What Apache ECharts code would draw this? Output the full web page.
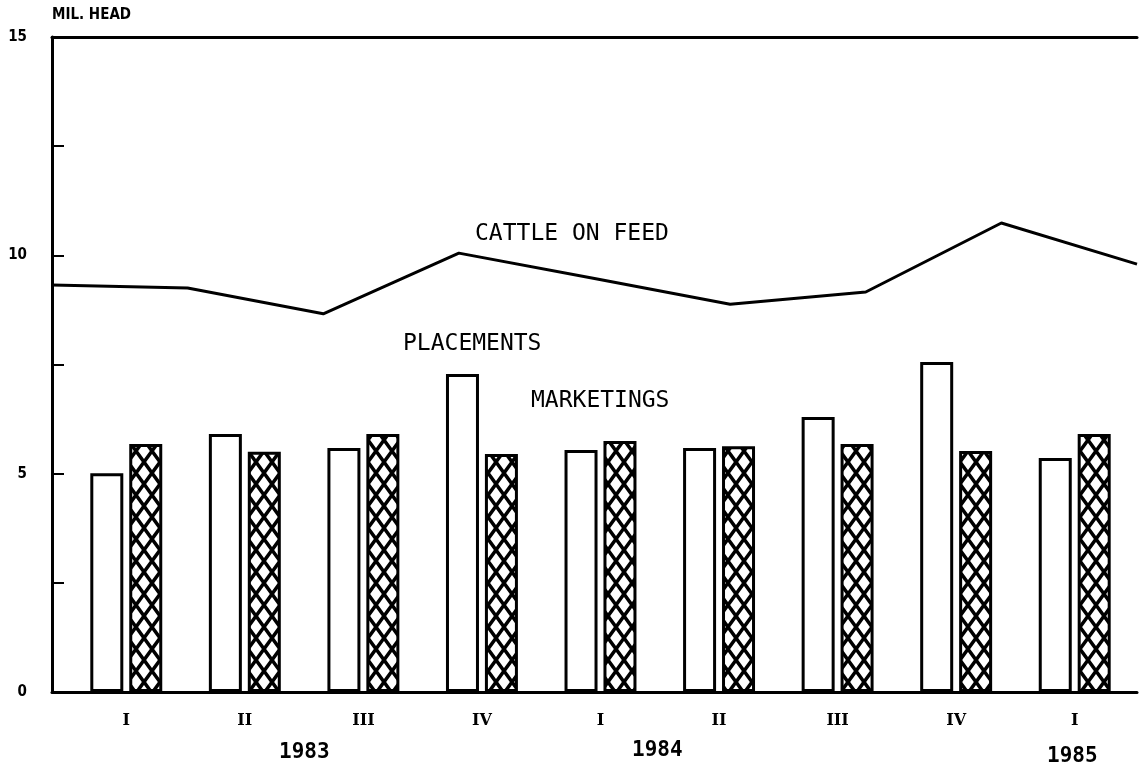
<!DOCTYPE html>
<html>
<head>
<meta charset="utf-8">
<script src="https://cdn.jsdelivr.net/npm/echarts@6/dist/echarts.min.js"></script>
<style>
html,body{margin:0;padding:0;background:#fff;}
#chart{width:1142px;height:767px;}
</style>
</head>
<body>
<div id="chart"></div>
<script>
// ---- data ----
var quarters = ['I', 'II', 'III', 'IV', 'I', 'II', 'III', 'IV', 'I'];
var placements = [5.01, 5.91, 5.59, 7.28, 5.54, 5.59, 6.30, 7.56, 5.36];
var marketings = [5.68, 5.50, 5.91, 5.45, 5.75, 5.63, 5.68, 5.52, 5.91];
var cattleOnFeed = [9.32, 9.25, 8.66, 10.05, 9.47, 8.88, 9.16, 10.74, 9.80];
var yTickLabels = ['0', '5', '10', '15'];
var years = ['1983', '1984', '1985'];

// crosshatch pattern
function makeHatch() {
  var w = 16, h = 22;
  var c = document.createElement('canvas');
  c.width = w; c.height = h;
  var ctx = c.getContext('2d');
  ctx.fillStyle = '#fff';
  ctx.fillRect(0, 0, w, h);
  ctx.strokeStyle = '#000';
  ctx.lineWidth = 3.5;
  for (var dx = -1; dx <= 1; dx++) {
    for (var dy = -1; dy <= 1; dy++) {
      ctx.beginPath();
      ctx.moveTo(dx * w, dy * h);
      ctx.lineTo(dx * w + w, dy * h + h);
      ctx.moveTo(dx * w + w, dy * h);
      ctx.lineTo(dx * w, dy * h + h);
      ctx.stroke();
    }
  }
  return c;
}

var chart = echarts.init(document.getElementById('chart'), null, {renderer: 'canvas'});
var lineData = cattleOnFeed.map(function (v, i) { return [i, v]; });
var monoFont = '"DejaVu Sans Mono", monospace';

var option = {
  animation: false,
  backgroundColor: '#fff',
  grid: [
    {left: 67, right: 8, top: 37, bottom: 75},
    {left: 52, right: 5, top: 37, bottom: 75}
  ],
  xAxis: [
    {
      type: 'category', gridIndex: 0, data: quarters,
      axisLine: {show: false}, axisTick: {show: false},
      axisLabel: {margin: 21, color: '#000', fontFamily: '"DejaVu Serif", serif', fontWeight: 'bold', fontSize: 16}
    },
    {
      type: 'value', gridIndex: 1, min: 0, max: 8, position: 'bottom',
      axisLine: {show: true, lineStyle: {color: '#000', width: 3}},
      axisTick: {show: false}, axisLabel: {show: false}, splitLine: {show: false}
    },
    {
      type: 'value', gridIndex: 1, min: 0, max: 8, position: 'top',
      axisLine: {show: true, lineStyle: {color: '#000', width: 3}},
      axisTick: {show: false}, axisLabel: {show: false}, splitLine: {show: false}
    }
  ],
  yAxis: [
    {
      type: 'value', gridIndex: 0, min: 0, max: 15, interval: 2.5,
      show: false, splitLine: {show: false}
    },
    {
      type: 'value', gridIndex: 1, min: 0, max: 15, interval: 2.5,
      axisLine: {show: true, lineStyle: {color: '#000', width: 3}},
      axisTick: {show: true, inside: true, length: 12, lineStyle: {color: '#000', width: 2}},
      splitLine: {show: false},
      axisLabel: {
        margin: 25, color: '#000', fontFamily: '"DejaVu Sans Condensed", "DejaVu Sans", sans-serif',
        fontWeight: 'bold', fontSize: 15,
        formatter: function (v) {
          var s = String(v);
          return yTickLabels.indexOf(s) >= 0 ? s : '';
        }
      }
    }
  ],
  series: [
    {
      name: 'PLACEMENTS', type: 'bar', xAxisIndex: 0, yAxisIndex: 0,
      data: placements, barWidth: 33, barGap: '18%',
      itemStyle: {color: '#fff', borderColor: '#000', borderWidth: 3}
    },
    {
      name: 'MARKETINGS', type: 'bar', xAxisIndex: 0, yAxisIndex: 0,
      data: marketings, barWidth: 33, barGap: '18%',
      itemStyle: {color: {image: makeHatch(), repeat: 'repeat'}, borderColor: '#000', borderWidth: 3}
    },
    {
      name: 'CATTLE ON FEED', type: 'line', xAxisIndex: 1, yAxisIndex: 1,
      data: lineData, symbol: 'none',
      lineStyle: {color: '#000', width: 3}
    }
  ],
  graphic: [
    {type: 'text', left: 52, top: 8, style: {text: 'MIL. HEAD', fill: '#000', font: 'bold 15px "DejaVu Sans Condensed", "DejaVu Sans", sans-serif'}},
    {type: 'text', left: 475, top: 223, style: {text: 'CATTLE ON FEED', fill: '#000', font: '23px ' + monoFont}},
    {type: 'text', left: 403, top: 333, style: {text: 'PLACEMENTS', fill: '#000', font: '23px ' + monoFont}},
    {type: 'text', left: 531, top: 390, style: {text: 'MARKETINGS', fill: '#000', font: '23px ' + monoFont}},
    {type: 'text', left: 279, top: 742, style: {text: years[0], fill: '#000', font: 'bold 21px ' + monoFont}},
    {type: 'text', left: 632, top: 740, style: {text: years[1], fill: '#000', font: 'bold 21px ' + monoFont}},
    {type: 'text', left: 1047, top: 746, style: {text: years[2], fill: '#000', font: 'bold 21px ' + monoFont}}
  ]
};
chart.setOption(option);
</script>
</body>
</html>
